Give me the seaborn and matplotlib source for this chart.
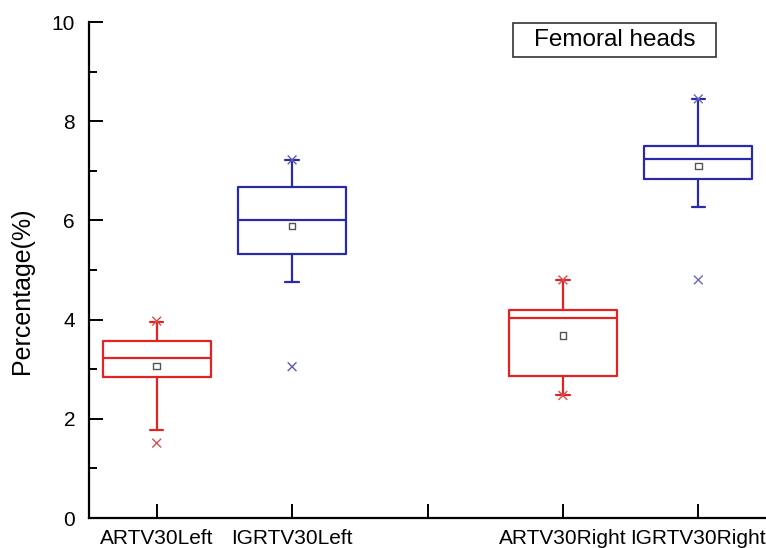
import matplotlib
matplotlib.use("Agg")
import matplotlib.pyplot as plt
from matplotlib.patches import Rectangle
from matplotlib.ticker import MultipleLocator
import seaborn as sns
import pandas as pd

# Dose-volume percentages per plan group
groups = ["ARTV30Left", "IGRTV30Left", "ARTV30Right", "IGRTV30Right"]
positions = [1, 2, 4, 5]
tick_positions = [1, 2, 3, 4, 5]
tick_labels = ["ARTV30Left", "IGRTV30Left", "", "ARTV30Right", "IGRTV30Right"]

q1 = [2.84, 5.32, 2.87, 6.83]
median = [3.22, 6.00, 4.03, 7.24]
q3 = [3.57, 6.68, 4.19, 7.51]
whisker_low = [1.77, 4.75, 2.47, 6.28]
whisker_high = [3.96, 7.22, 4.80, 8.45]
mean = [3.06, 5.89, 3.68, 7.10]
minimum = [1.51, 3.05, 2.47, 4.80]
maximum = [3.97, 7.22, 4.80, 8.45]

box_colors = ["#e02424", "#2a2aa8", "#e02424", "#2a2aa8"]
marker_colors = ["#d05050", "#5a5ab0", "#d05050", "#6a6ab0"]

sns.set_style("white")
plt.rcParams["font.family"] = ["Liberation Sans", "DejaVu Sans"]
plt.rcParams["text.color"] = "black"
plt.rcParams["axes.labelcolor"] = "black"
plt.rcParams["xtick.color"] = "black"
plt.rcParams["ytick.color"] = "black"

fig = plt.figure(figsize=(7.66, 5.48), dpi=100)
ax = fig.add_axes([89 / 766, 30 / 548, (766 - 89) / 766, (518 - 22) / 548])

for i, g in enumerate(groups):
    stats = [{
        "label": g,
        "q1": q1[i], "med": median[i], "q3": q3[i],
        "whislo": whisker_low[i], "whishi": whisker_high[i],
        "mean": mean[i], "fliers": [],
    }]
    c = box_colors[i]
    ax.bxp(stats, positions=[positions[i]], widths=0.8, showmeans=False,
           showfliers=False, manage_ticks=False,
           boxprops=dict(color=c, linewidth=1.6),
           medianprops=dict(color=c, linewidth=1.6),
           whiskerprops=dict(color=c, linewidth=1.6),
           capprops=dict(color=c, linewidth=1.6),
           capwidths=0.1)

summary = pd.DataFrame({
    "pos": positions,
    "mean": mean,
    "min": minimum,
    "max": maximum,
    "group": groups,
})

# Mean markers (open squares)
sns.scatterplot(data=summary, x="pos", y="mean", marker="s", s=22,
                facecolor="none", edgecolor="#555555", linewidth=1.0,
                ax=ax, legend=False, zorder=5)
# Extreme values (crosses)
for col in ["min", "max"]:
    sns.scatterplot(data=summary, x="pos", y=col, hue="group",
                    palette=dict(zip(groups, marker_colors)),
                    marker="x", s=40, linewidth=1.0, ax=ax,
                    legend=False, zorder=5)

ax.set_xlim(0.5, 5.5)
ax.set_ylim(0, 10)
ax.set_xticks(tick_positions)
ax.set_xticklabels(tick_labels)
ax.yaxis.set_major_locator(MultipleLocator(2))
ax.yaxis.set_minor_locator(MultipleLocator(1))
ax.set_xlabel("")
ax.set_ylabel("Percentage(%)", fontsize=18)
ax.yaxis.label.set_verticalalignment("center")
ax.yaxis.set_label_coords((22 - 89) / 677, (518 - 291) / 496)

for side in ["top", "right"]:
    ax.spines[side].set_visible(False)
for side in ["left", "bottom"]:
    ax.spines[side].set_color("black")
    ax.spines[side].set_linewidth(1.6)

ax.tick_params(axis="y", which="major", direction="in", length=10, width=1.4,
               labelsize=15, pad=10, left=True)
ax.tick_params(axis="y", which="minor", direction="in", length=6, width=1.4, left=True)
ax.tick_params(axis="x", which="major", direction="in", length=10, width=1.4,
               labelsize=15, pad=8, bottom=True)

# Panel title in a framed box
ax.add_patch(Rectangle((513, 548 - 57), 203, 34, transform=None, fill=False,
                       edgecolor="#333333", linewidth=1.2, zorder=6))
fig.text(614.5 / 766, 1 - 40 / 548, "Femoral heads", ha="center", va="center",
         fontsize=17.5)

fig.savefig("out.png", dpi=100)
